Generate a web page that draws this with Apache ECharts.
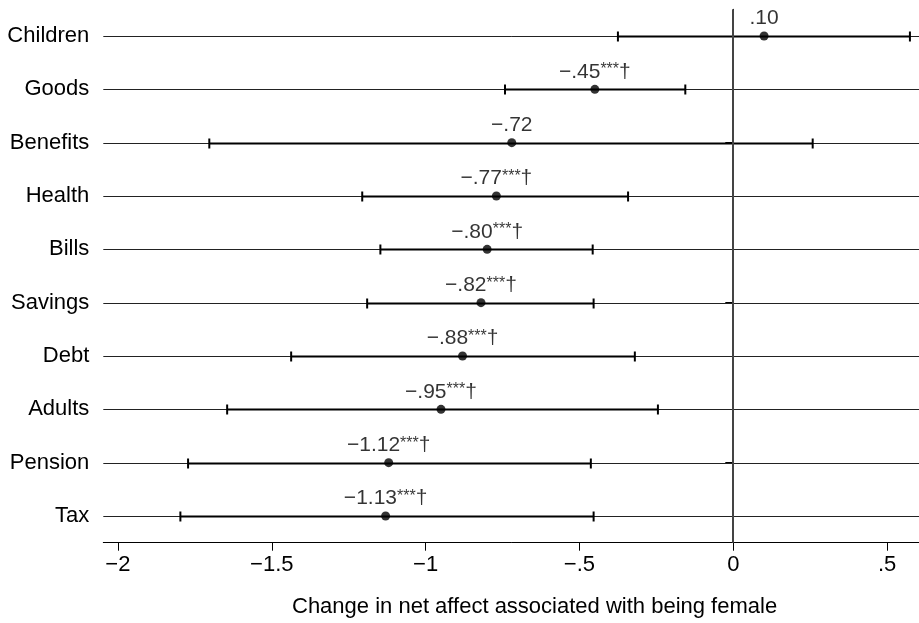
<!DOCTYPE html>
<html>
<head>
<meta charset="utf-8">
<script src="https://cdn.jsdelivr.net/npm/echarts@6/dist/echarts.min.js"></script>
<style>
  html, body { margin: 0; padding: 0; background: #fff; }
  #chart { width: 919px; height: 623px; }
</style>
</head>
<body>
<div id="chart"></div>
<script>
// categories, top to bottom
const categories = ["Children", "Goods", "Benefits", "Health", "Bills", "Savings", "Debt", "Adults", "Pension", "Tax"];
// point estimates and confidence bounds
const estimates = [0.10, -0.45, -0.72, -0.77, -0.80, -0.82, -0.88, -0.95, -1.12, -1.13];
const lower = [-0.375, -0.742, -1.703, -1.206, -1.147, -1.190, -1.437, -1.645, -1.772, -1.797];
const upper = [0.574, -0.156, 0.258, -0.342, -0.457, -0.454, -0.320, -0.245, -0.463, -0.454];
// label parts
const valueLabels = [".10", "\u2212.45", "\u2212.72", "\u2212.77", "\u2212.80", "\u2212.82", "\u2212.88", "\u2212.95", "\u22121.12", "\u22121.13"];
const stars = ["", "***", "", "***", "***", "***", "***", "***", "***", "***"];
const daggers = ["", "\u2020", "", "\u2020", "\u2020", "\u2020", "\u2020", "\u2020", "\u2020", "\u2020"];
// x ticks
const xTicks = [-2, -1.5, -1, -0.5, 0, 0.5];
const xTickLabels = ["\u22122", "\u22121.5", "\u22121", "\u2212.5", "0", ".5"];
const zeroLine = [0];

const xMin = -2.0475, xMax = 0.6035;
const font = "Liberation Sans, Arial, Helvetica, sans-serif";

let chart = echarts.init(document.getElementById("chart"));

function renderItem(params, api) {
  const i = api.value(2);
  const lo = api.coord([api.value(0), i]);
  const hi = api.coord([api.value(1), i]);
  const gl = api.coord([xMin, i]);
  const gr = api.coord([xMax, i]);
  const y = Math.round(lo[1]) + 0.5; // crisp 1px grid line
  const h = 5;
  return {
    type: "group",
    children: [
      { type: "line", shape: { x1: gl[0], y1: y, x2: gr[0], y2: y }, style: { stroke: "#222", lineWidth: 1 } },
      { type: "line", shape: { x1: lo[0], y1: y, x2: hi[0], y2: y }, style: { stroke: "#000", lineWidth: 2 } },
      { type: "line", shape: { x1: lo[0], y1: y - h, x2: lo[0], y2: y + h }, style: { stroke: "#000", lineWidth: 2 } },
      { type: "line", shape: { x1: hi[0], y1: y - h, x2: hi[0], y2: y + h }, style: { stroke: "#000", lineWidth: 2 } },
    ],
  };
}

function renderZero(params, api) {
  const cs = params.coordSys;
  const x = Math.round(api.coord([api.value(0), 0])[0]);
  return {
    type: "line",
    shape: { x1: x, y1: cs.y, x2: x, y2: cs.y + cs.height },
    style: { stroke: "#444", lineWidth: 2 },
  };
}

let option = {
  backgroundColor: "#fff",
  animation: false,
  textStyle: { fontFamily: font },
  grid: { left: 103.3, right: 0, top: 9.3, bottom: 80.3, containLabel: false },
  xAxis: {
    type: "value",
    min: xMin,
    max: xMax,
    axisLine: { show: true, onZero: false, lineStyle: { color: "#000", width: 1 } },
    axisTick: { show: true, length: 8, customValues: xTicks, lineStyle: { color: "#000", width: 1 } },
    axisLabel: {
      customValues: xTicks,
      margin: 11,
      color: "#000",
      fontSize: 22,
      fontFamily: font,
      formatter: (v) => xTickLabels[xTicks.indexOf(v)] || "",
    },
    splitLine: { show: false },
  },
  yAxis: {
    type: "category",
    data: categories,
    inverse: true,
    axisLine: { show: true, lineStyle: { color: "#000", width: 1 } },
    axisTick: { show: true, length: 8, alignWithLabel: true, lineStyle: { color: "#000", width: 1 } },
    axisLabel: { margin: 14, color: "#000", fontSize: 22, fontFamily: font },
    splitLine: { show: false },
  },
  graphic: [
    {
      type: "text",
      left: 542 - 250,
      top: 596,
      style: {
        text: "Change in net affect associated with being female",
        font: "22px " + font,
        fill: "#000",
      },
    },
  ],
  series: [
    {
      type: "custom",
      renderItem: renderItem,
      encode: { x: [0, 1], y: 2 },
      data: categories.map((c, i) => [lower[i], upper[i], i]),
      z: 2,
      silent: true,
    },
    {
      type: "custom",
      renderItem: renderZero,
      encode: { x: 0 },
      data: zeroLine.map((v) => [v]),
      z: 3,
      silent: true,
    },
    {
      type: "scatter",
      symbol: "circle",
      symbolSize: 9,
      itemStyle: { color: "#000" },
      data: estimates.map((v, i) => [v, i]),
      z: 4,
      label: {
        show: true,
        position: "top",
        distance: 3,
        color: "#000",
        textBorderWidth: 0,
        formatter: (p) => {
          const i = p.dataIndex;
          let s = "{v|" + valueLabels[i] + "}";
          if (stars[i]) s += "{s|" + stars[i] + "}";
          if (daggers[i]) s += "{d|" + daggers[i] + "}";
          return s;
        },
        rich: {
          v: { fontSize: 21, lineHeight: 20, color: "#000", fontFamily: font },
          s: { fontSize: 16, lineHeight: 14, color: "#000", fontFamily: font, verticalAlign: "top" },
          d: { fontSize: 21, lineHeight: 20, color: "#000", fontFamily: font },
        },
      },
    },
  ],
};

chart.setOption(option);
window.addEventListener("resize", () => chart.resize(), true);
</script>
</body>
</html>
